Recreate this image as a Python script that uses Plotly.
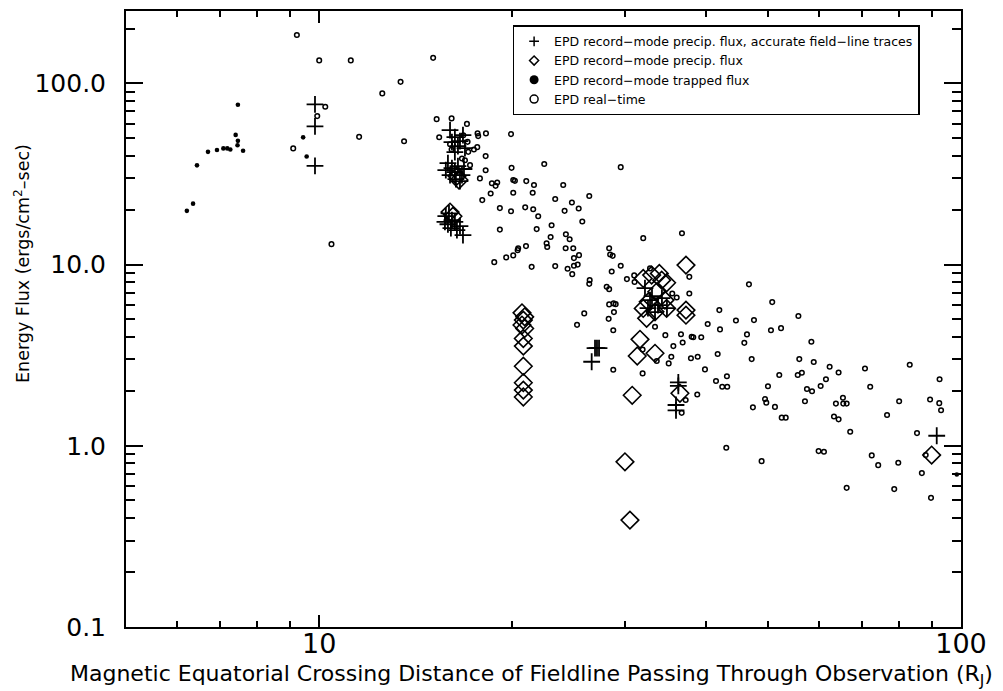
import math
import plotly.graph_objects as go

# ---------------- data (x: R_J, y: ergs/cm^2-sec) ----------------
# EPD real-time (open circles)
rt_x = [9.23, 10.0, 11.2, 12.54, 13.39, 10.22, 9.93, 9.11, 11.54, 13.56, 10.45,
        15.05, 15.24, 16.08, 16.99, 15.38, 17.65, 17.69, 18.19, 19.9, 15.99, 17.63, 17.42, 17.07,
        16.69, 17.18, 18.17, 18.17, 17.8, 18.58, 18.94, 18.83, 19.94, 20.06, 20.18, 21.02, 21.61,
        22.42, 24.0, 29.5, 20.06, 21.51, 18.5, 17.95, 23.32, 24.76, 25.37, 26.35, 19.12, 19.9,
        20.94, 21.55, 21.94, 24.12, 25.7, 19.12, 21.82, 23.02, 24.23, 24.56, 22.94, 31.98, 36.75,
        20.42, 21.0, 22.61, 22.66, 24.21, 24.88, 28.3, 16.08, 16.77, 17.03, 16.87,
        18.74, 19.56, 20.06, 20.38, 21.43, 23.32, 25.4, 24.94, 25.28, 24.94, 24.38, 24.79, 26.39,
        26.35, 28.4, 28.66, 28.56, 29.5, 30.16, 30.96, 31.0, 28.05, 28.3, 28.3, 28.76, 28.97, 28.79,
        28.25, 28.72, 25.88, 25.22, 28.72, 31.91, 37.73, 37.73, 33.36, 34.62, 35.63, 36.84, 36.62,
        38.05, 38.27, 35.37, 35.04, 33.57, 37.95, 38.88, 38.82, 37.24, 36.71, 31.91, 36.06, 35.49,
        32.77,
        39.38, 39.91, 40.3, 42.02, 42.12, 41.77, 41.52, 42.46, 43.23, 43.18, 43.08, 44.6, 46.4,
        45.96, 46.73, 47.58, 47.19, 47.4, 48.9, 50.8, 50.57, 52.43, 52.1, 50.03, 49.5, 49.73, 51.3,
        52.56, 53.32, 55.8, 58.46, 55.98, 55.67, 56.5, 58.96, 57.54, 58.6, 57.13, 60.44, 61.6,
        62.42, 64.46, 65.47, 63.84, 65.55, 66.35, 63.4, 64.46, 67.2, 60.0, 61.16, 70.86, 72.2,
        72.6, 74.3, 76.7, 80.1, 79.85, 83.2, 85.4, 89.5, 92.6, 92.5, 93.1, 88.1, 66.35, 78.7,
        86.9, 89.8]
rt_y = [185, 134, 134, 88.1, 102, 74.3, 66.0, 43.8, 50.7, 48.0, 12.97,
        138.4, 63.5, 64.1, 59.8, 50.5, 53.0, 51.2, 53.0, 52.5, 46.2, 44.5, 43.2, 41.9,
        38.5, 35.4, 39.7, 33.2, 29.9, 28.1, 28.4, 27.2, 34.2, 29.3, 29.0, 28.9, 27.5,
        35.9, 27.5, 34.5, 24.9, 24.9, 24.7, 22.7, 23.0, 22.0, 20.4, 23.9, 20.5, 19.7,
        20.7, 20.2, 18.5, 19.8, 17.3, 15.6, 15.7, 16.5, 14.7, 13.8, 14.2, 14.0, 14.9,
        12.3, 12.65, 13.1, 12.5, 12.3, 12.3, 12.3, 43.2, 51.8, 47.6, 37.7,
        10.32, 10.96, 11.24, 12.02, 9.72, 9.81, 11.28, 10.86, 10.0, 9.85, 9.48, 8.86, 8.21,
        7.83, 11.38, 11.18, 9.17, 9.85, 8.32, 8.72, 8.01, 7.54, 7.32, 6.03, 6.11, 6.05, 5.47,
        5.02, 4.34, 5.38, 4.65, 2.63, 2.51, 8.56, 6.93, 4.54, 4.08, 3.55, 3.72, 4.13,
        4.0, 3.97, 3.10, 2.85, 2.94, 3.04, 3.10, 1.92, 1.79, 1.52, 3.40, 6.59, 6.93,
        9.53,
        3.97, 2.64, 4.70, 5.61, 4.39, 3.21, 2.28, 2.12, 2.12, 2.42, 0.975, 4.92, 4.12,
        3.70, 7.78, 4.94, 3.01, 1.63, 0.823, 6.21, 4.34, 4.46, 2.46, 2.13, 1.81, 1.73, 1.64,
        1.43, 1.43, 5.20, 3.75, 3.01, 2.46, 2.53, 2.90, 2.06, 2.0, 1.76, 2.14, 2.33,
        2.73, 2.54, 1.84, 1.71, 1.71, 1.71, 1.45, 1.40, 1.195, 0.935, 0.927, 2.67, 2.12,
        0.885, 0.782, 1.48, 1.76, 0.806, 2.80, 1.175, 1.80, 2.33, 1.72, 1.57, 0.889, 0.586, 0.577,
        0.707, 0.516]

# EPD record-mode trapped flux (filled dots)
trap_x = [6.22, 6.36, 6.45, 6.71, 6.93, 7.09, 7.19, 7.27, 7.41, 7.47, 7.46, 7.47, 7.61,
          9.44, 9.56, 98.5]
trap_y = [19.8, 21.7, 35.3, 41.9, 42.9, 43.8, 43.8, 43.2, 52.0, 48.2, 45.6, 76.2, 42.5,
          50.4, 39.5, 0.695]

# EPD record-mode precip. flux (diamonds)
prec_x = [16.39, 16.51, 15.99, 16.16,
          20.7, 20.9, 20.8, 20.7, 20.9, 20.8, 20.8, 20.8, 20.8, 20.8, 20.8,
          33.88, 34.17, 32.96, 34.78, 31.98, 33.57, 32.56, 34.57, 31.98, 33.36, 32.37, 34.78,
          37.28, 37.28, 37.28, 31.61, 31.3, 33.36, 30.74, 29.95, 30.49, 36.48, 90.0]
prec_y = [30.8, 29.3, 19.5, 18.5,
          5.42, 5.15, 4.94, 4.64, 4.44, 3.91, 3.55, 2.75, 2.23, 2.03, 1.86,
          8.94, 8.21, 8.75, 7.94, 8.39, 7.08, 6.23, 6.37, 5.73, 5.49, 5.05, 5.73,
          5.61, 5.26, 9.94, 3.87, 3.13, 3.24, 1.90, 0.816, 0.389, 1.95, 0.889]

# EPD record-mode precip. flux, accurate field-line traces (crosses)
acc_x = [9.85, 9.85, 9.85,
         15.99, 16.27, 16.57, 16.75, 16.45, 16.87, 16.27, 16.1,
         15.87, 16.1, 16.27, 16.45, 15.99, 16.69, 16.33, 15.75, 16.81, 16.57,
         15.75, 15.93, 16.1, 15.87, 16.27, 16.04, 16.39, 16.57, 16.75, 15.7,
         26.58, 26.9, 27.09, 27.29,
         32.18, 32.53, 33.72, 34.82, 33.0, 34.2, 32.77, 33.36,
         36.27, 36.27, 35.97, 35.97, 91.66]
acc_y = [76.6, 57.9, 35.1,
         55.2, 50.5, 48.0, 51.8, 45.1, 43.95, 41.8, 47.4,
         36.3, 34.1, 32.4, 35.0, 31.2, 31.2, 29.6, 33.2, 33.7, 28.9,
         18.5, 19.2, 17.6, 16.7, 17.2, 15.9, 15.5, 16.3, 14.55, 17.2,
         2.91, 3.46, 3.46, 3.46,
         7.42, 5.75, 5.98, 5.75, 6.70, 6.53, 6.37, 5.47,
         2.24, 2.14, 1.68, 1.57, 1.136]

legend_names = ["EPD record−mode precip. flux, accurate field−line traces",
                "EPD record−mode precip. flux",
                "EPD record−mode trapped flux",
                "EPD real−time"]

y_tickvals = [0.1, 1, 10, 100]
y_ticktext = ["0.1", "1.0", "10.0", "100.0"]
y_minor = [0.2, 0.3, 0.4, 0.5, 0.6, 0.7, 0.8, 0.9, 2, 3, 4, 5, 6, 7, 8, 9,
           20, 30, 40, 50, 60, 70, 80, 90, 200]
x_tickvals = [10, 100]
x_ticktext = ["10", "100"]
x_minor = [6, 7, 8, 9, 20, 30, 40, 50, 60, 70, 80, 90]
x_range = [5, 100]
y_range = [0.1, 251]

# ---------------- figure ----------------
# (the page adds an 8 px body margin, so the figure is 8 px smaller and margins are shifted)
fig = go.Figure()
K = "black"

fig.add_trace(go.Scatter(x=rt_x, y=rt_y, mode="markers", showlegend=False, legendgroup="rt",
                         marker=dict(symbol="circle-open", size=4.6, color=K, line=dict(width=1.5, color=K))))
fig.add_trace(go.Scatter(x=trap_x, y=trap_y, mode="markers", showlegend=False, legendgroup="trap",
                         marker=dict(symbol="circle", size=4.6, color=K, line=dict(width=0))))
fig.add_trace(go.Scatter(x=prec_x, y=prec_y, mode="markers", showlegend=False, legendgroup="prec",
                         marker=dict(symbol="diamond-open", size=13.5, color=K, line=dict(width=1.6, color=K))))
fig.add_trace(go.Scatter(x=acc_x, y=acc_y, mode="markers", showlegend=False, legendgroup="acc",
                         marker=dict(symbol="cross-thin-open", size=12, color=K, line=dict(width=1.8, color=K))))

# legend entries (legend-only, no data)
leg_markers = [
    ("acc", dict(symbol="cross-thin-open", size=7, color=K, line=dict(width=1.5, color=K))),
    ("prec", dict(symbol="diamond-open", size=7, color=K, line=dict(width=1.5, color=K))),
    ("trap", dict(symbol="circle", size=9, color=K, line=dict(width=0))),
    ("rt", dict(symbol="circle-open", size=8, color=K, line=dict(width=1.5, color=K))),
]
for name, (grp, mk) in zip(legend_names, leg_markers):
    fig.add_trace(go.Scatter(x=[None], y=[None], mode="markers", name=name, legendgroup=grp,
                             marker=mk, showlegend=True))

fig.update_layout(
    width=995, height=683,
    margin=dict(l=118, r=42, t=3, b=64, autoexpand=False),
    paper_bgcolor="white", plot_bgcolor="white",
    font=dict(family="DejaVu Sans", color=K),
    legend=dict(x=0.463, y=0.977, xanchor="left", yanchor="top", bordercolor=K, borderwidth=1.5,
                bgcolor="white", font=dict(size=12.5, family="DejaVu Sans", color=K),
                tracegroupgap=0, itemwidth=30),
)

fig.update_xaxes(type="log", range=[math.log10(x_range[0]), math.log10(x_range[1])],
                 automargin=False,
                 tickmode="array", tickvals=x_tickvals, ticktext=x_ticktext,
                 ticks="inside", ticklen=12, tickwidth=2, tickcolor=K,
                 showline=True, linewidth=2, linecolor=K, mirror="ticks",
                 showgrid=False, zeroline=False, tickfont=dict(size=27, color=K),
                 ticklabelstandoff=-8,
                 minor=dict(tickmode="array", tickvals=x_minor, ticks="inside", ticklen=6,
                            tickwidth=2, tickcolor=K, showgrid=False))
fig.update_yaxes(type="log", range=[math.log10(y_range[0]), math.log10(y_range[1])],
                 automargin=False,
                 tickmode="array", tickvals=y_tickvals, ticktext=y_ticktext,
                 ticks="inside", ticklen=17, tickwidth=2, tickcolor=K,
                 showline=True, linewidth=2, linecolor=K, mirror="ticks",
                 showgrid=False, zeroline=False, tickfont=dict(size=25, color=K),
                 ticklabelstandoff=13,
                 minor=dict(tickmode="array", tickvals=y_minor, ticks="inside", ticklen=9,
                            tickwidth=2, tickcolor=K, showgrid=False))

fig.add_annotation(text="Magnetic Equatorial Crossing Distance of Fieldline Passing Through Observation (R<sub>J</sub>)",
                   xref="paper", yref="paper", x=(531 - 126) / 835, y=1 - (675 - 11) / 616,
                   xanchor="center", yanchor="middle", showarrow=False,
                   font=dict(size=22, family="DejaVu Sans", color=K))
fig.add_annotation(text="Energy Flux (ergs/cm<sup>2</sup>–sec)",
                   xref="paper", yref="paper", x=(22 - 126) / 835, y=1 - (264 - 11) / 616,
                   xanchor="center", yanchor="middle", showarrow=False, textangle=-90,
                   font=dict(size=17.5, family="DejaVu Sans", color=K))

fig.write_html("out.html")
